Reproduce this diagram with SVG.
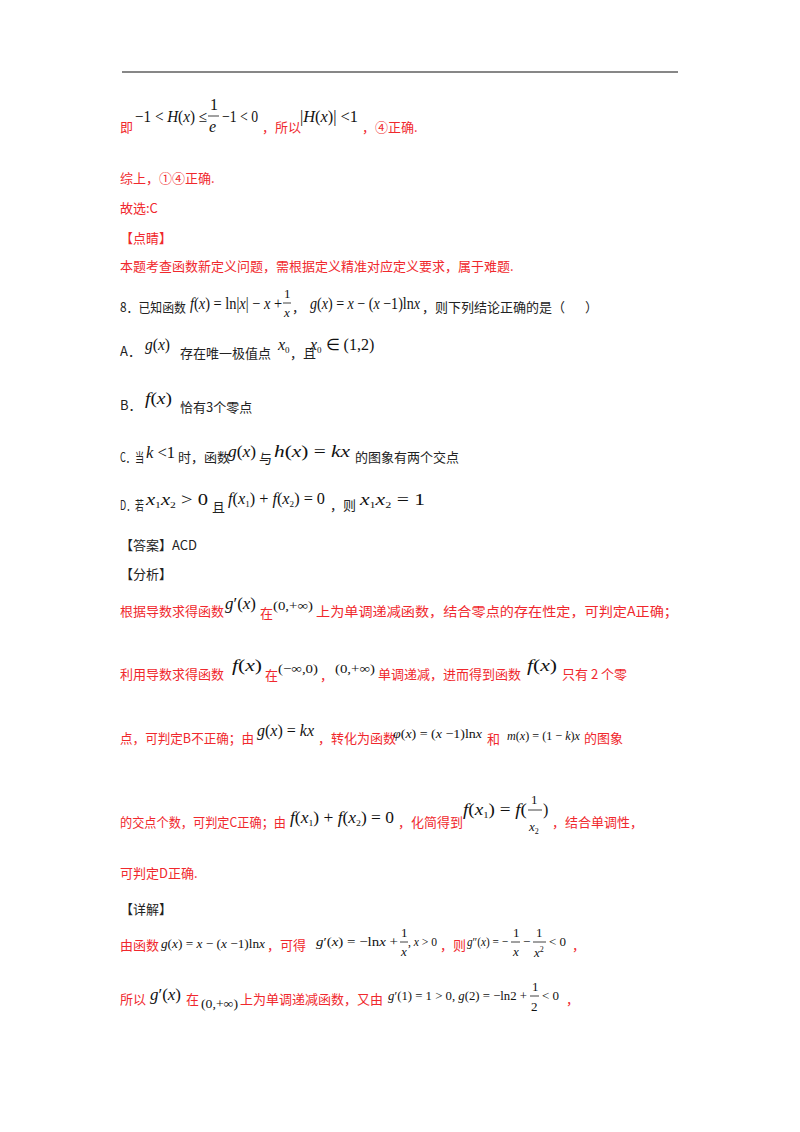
<svg xmlns="http://www.w3.org/2000/svg" width="800" height="1132" viewBox="0 0 800 1132">
<style>
.r{fill:#f0282d;font-family:"Noto Sans CJK SC","Liberation Sans",sans-serif;font-size:13px}
.k{fill:#222;font-family:"Noto Sans CJK SC","Liberation Sans",sans-serif;font-size:13px}
.m{fill:#111;font-family:"Liberation Serif",serif;font-size:16px}
.s{fill:#111;font-family:"Liberation Serif",serif;font-size:13px}
.i{font-style:italic}
.b{stroke:#111;stroke-width:0.8}
</style>
<rect width="800" height="1132" fill="#fff"/>
<line x1="122" y1="72" x2="678" y2="72" stroke="#111" stroke-width="1.2"/>

<text class="r" x="120" y="132">即</text>
<text class="m" x="135" y="122" textLength="72" lengthAdjust="spacingAndGlyphs">−1 &lt; <tspan class="i">H</tspan>(<tspan class="i">x</tspan>) ≤</text>
<text class="m" x="210" y="110">1</text><line class="b" x1="208" y1="116" x2="219" y2="116"/>
<text class="m i" x="209" y="132">e</text>
<text class="m" x="222" y="122" textLength="36" lengthAdjust="spacingAndGlyphs">−1 &lt; 0</text>
<text class="r" x="262" y="132">，所以</text>
<text class="m" x="300" y="122" textLength="58" lengthAdjust="spacingAndGlyphs">|<tspan class="i">H</tspan>(<tspan class="i">x</tspan>)| &lt;1</text>
<text class="r" x="362" y="132">，④正确.</text>

<text class="r" x="120" y="183">综上，①④正确.</text>
<text class="r" x="120" y="213">故选:C</text>
<text class="r" x="120" y="243">【点睛】</text>
<text class="r" x="120" y="271">本题考查函数新定义问题，需根据定义精准对应定义要求，属于难题.</text>

<text class="k" x="120" y="312" textLength="66" lengthAdjust="spacingAndGlyphs">8．已知函数</text>
<text class="m" x="190" y="309" textLength="92" lengthAdjust="spacingAndGlyphs"><tspan class="i">f</tspan>(<tspan class="i">x</tspan>) = ln|<tspan class="i">x</tspan>| − <tspan class="i">x</tspan> +</text>
<text class="s" x="284" y="298">1</text><line class="b" x1="283" y1="303" x2="291" y2="303"/>
<text class="s i" x="284" y="317">x</text>
<text class="k" x="292" y="312">，</text>
<text class="m" x="310" y="309" textLength="110" lengthAdjust="spacingAndGlyphs"><tspan class="i">g</tspan>(<tspan class="i">x</tspan>) = <tspan class="i">x</tspan> − (<tspan class="i">x</tspan> −1)ln<tspan class="i">x</tspan></text>
<text class="k" x="422" y="312">，则下列结论正确的是（</text>
<text class="k" x="585" y="312">）</text>

<text class="k" x="120" y="356">A．</text>
<text class="m" x="145" y="350" textLength="25" lengthAdjust="spacingAndGlyphs"><tspan class="i">g</tspan>(<tspan class="i">x</tspan>)</text>
<text class="k" x="180" y="358">存在唯一极值点</text>
<text class="m i" x="278" y="350">x<tspan font-size="9" dy="3" font-style="normal">0</tspan></text>
<text class="k" x="290" y="358">，且</text>
<text class="m" x="310" y="350"><tspan class="i">x</tspan><tspan font-size="9" dy="3">0</tspan><tspan dy="-3"> ∈ (1,2)</tspan></text>

<text class="k" x="120" y="410">B．</text>
<text class="m" x="145" y="404" textLength="27" lengthAdjust="spacingAndGlyphs"><tspan class="i">f</tspan>(<tspan class="i">x</tspan>)</text>
<text class="k" x="180" y="412">恰有3个零点</text>

<text class="k" x="120" y="462" textLength="24" lengthAdjust="spacingAndGlyphs">C．当</text>
<text class="m" x="146" y="458" textLength="29" lengthAdjust="spacingAndGlyphs"><tspan class="i">k</tspan> &lt;1</text>
<text class="k" x="178" y="462">时，函数</text>
<text class="m" x="228" y="457" textLength="28" lengthAdjust="spacingAndGlyphs"><tspan class="i">g</tspan>(<tspan class="i">x</tspan>)</text>
<text class="k" x="259" y="463">与</text>
<text class="m" x="274" y="457" textLength="76" lengthAdjust="spacingAndGlyphs"><tspan class="i">h</tspan>(<tspan class="i">x</tspan>) = <tspan class="i">kx</tspan></text>
<text class="k" x="355" y="462">的图象有两个交点</text>

<text class="k" x="120" y="510" textLength="24" lengthAdjust="spacingAndGlyphs">D．若</text>
<text class="m" x="146" y="505" textLength="62" lengthAdjust="spacingAndGlyphs"><tspan class="i">x</tspan><tspan font-size="9" dy="3">1</tspan><tspan class="i" dy="-3">x</tspan><tspan font-size="9" dy="3">2</tspan><tspan dy="-3"> &gt; 0</tspan></text>
<text class="k" x="212" y="512">且</text>
<text class="m" x="228" y="504" textLength="97" lengthAdjust="spacingAndGlyphs"><tspan class="i">f</tspan>(<tspan class="i">x</tspan><tspan font-size="9" dy="3">1</tspan><tspan dy="-3">) + </tspan><tspan class="i">f</tspan>(<tspan class="i">x</tspan><tspan font-size="9" dy="3">2</tspan><tspan dy="-3">) = 0</tspan></text>
<text class="k" x="330" y="510">，则</text>
<text class="m" x="360" y="505" textLength="65" lengthAdjust="spacingAndGlyphs"><tspan class="i">x</tspan><tspan font-size="9" dy="3">1</tspan><tspan class="i" dy="-3">x</tspan><tspan font-size="9" dy="3">2</tspan><tspan dy="-3"> = 1</tspan></text>

<text class="k" x="120" y="550">【答案】ACD</text>
<text class="k" x="120" y="579">【分析】</text>

<text class="r" x="120" y="616">根据导数求得函数</text>
<text class="m" x="225" y="609" textLength="31" lengthAdjust="spacingAndGlyphs"><tspan class="i">g</tspan>′(<tspan class="i">x</tspan>)</text>
<text class="r" x="260" y="618">在</text>
<text class="s" x="273" y="610" textLength="40" lengthAdjust="spacingAndGlyphs">(0,+∞)</text>
<text class="r" x="316" y="616" textLength="362" lengthAdjust="spacingAndGlyphs">上为单调递减函数，结合零点的存在性定，可判定A正确；</text>

<text class="r" x="120" y="679">利用导数求得函数</text>
<text class="m" x="232" y="671" textLength="30" lengthAdjust="spacingAndGlyphs"><tspan class="i">f</tspan>(<tspan class="i">x</tspan>)</text>
<text class="r" x="265" y="680">在</text>
<text class="s" x="278" y="673" textLength="40" lengthAdjust="spacingAndGlyphs">(−∞,0)</text>
<text class="r" x="320" y="680">，</text>
<text class="s" x="335" y="673" textLength="40" lengthAdjust="spacingAndGlyphs">(0,+∞)</text>
<text class="r" x="378" y="679" textLength="143" lengthAdjust="spacingAndGlyphs">单调递减，进而得到函数</text>
<text class="m" x="527" y="671" textLength="30" lengthAdjust="spacingAndGlyphs"><tspan class="i">f</tspan>(<tspan class="i">x</tspan>)</text>
<text class="r" x="562" y="679" font-size="14">只有 2 个零</text>

<text class="r" x="120" y="743" textLength="134" lengthAdjust="spacingAndGlyphs">点，可判定B不正确；由</text>
<text class="m" x="257" y="736" textLength="57" lengthAdjust="spacingAndGlyphs"><tspan class="i">g</tspan>(<tspan class="i">x</tspan>) = <tspan class="i">kx</tspan></text>
<text class="r" x="318" y="743">，转化为函数</text>
<text class="s" x="393" y="738" textLength="89" lengthAdjust="spacingAndGlyphs"><tspan class="i">φ</tspan>(<tspan class="i">x</tspan>) = (<tspan class="i">x</tspan> −1)ln<tspan class="i">x</tspan></text>
<text class="r" x="487" y="744">和</text>
<text class="s" x="507" y="740" textLength="73" lengthAdjust="spacingAndGlyphs"><tspan class="i">m</tspan>(<tspan class="i">x</tspan>) = (1 − <tspan class="i">k</tspan>)<tspan class="i">x</tspan></text>
<text class="r" x="584" y="743">的图象</text>

<text class="r" x="120" y="827" textLength="166" lengthAdjust="spacingAndGlyphs">的交点个数，可判定C正确；由</text>
<text class="m" x="290" y="823" textLength="104" lengthAdjust="spacingAndGlyphs"><tspan class="i">f</tspan>(<tspan class="i">x</tspan><tspan font-size="9" dy="3">1</tspan><tspan dy="-3">) + </tspan><tspan class="i">f</tspan>(<tspan class="i">x</tspan><tspan font-size="9" dy="3">2</tspan><tspan dy="-3">) = 0</tspan></text>
<text class="r" x="398" y="827">，化简得到</text>
<text class="m" x="463" y="815" textLength="64" lengthAdjust="spacingAndGlyphs"><tspan class="i">f</tspan>(<tspan class="i">x</tspan><tspan font-size="9" dy="3">1</tspan><tspan dy="-3">) = </tspan><tspan class="i">f</tspan>(</text>
<text class="s" x="531" y="804">1</text><line class="b" x1="528" y1="810" x2="542" y2="810"/>
<text class="s i" x="529" y="831">x<tspan font-size="8" dy="3" font-style="normal">2</tspan></text>
<text class="m" x="543" y="815">)</text>
<text class="r" x="552" y="827">，结合单调性，</text>

<text class="r" x="120" y="878">可判定D正确.</text>
<text class="k" x="120" y="914">【详解】</text>

<text class="r" x="120" y="950">由函数</text>
<text class="s" x="161" y="948" textLength="104" lengthAdjust="spacingAndGlyphs"><tspan class="i">g</tspan>(<tspan class="i">x</tspan>) = <tspan class="i">x</tspan> − (<tspan class="i">x</tspan> −1)ln<tspan class="i">x</tspan></text>
<text class="r" x="267" y="950">，可得</text>
<text class="s" x="316" y="946" textLength="82" lengthAdjust="spacingAndGlyphs"><tspan class="i">g</tspan>′(<tspan class="i">x</tspan>) = −ln<tspan class="i">x</tspan> +</text>
<text class="s" x="401" y="937">1</text><line class="b" x1="400" y1="942" x2="408" y2="942"/>
<text class="s i" x="401" y="956">x</text>
<text class="s" x="408" y="946" textLength="29" lengthAdjust="spacingAndGlyphs">, <tspan class="i">x</tspan> &gt; 0</text>
<text class="r" x="440" y="950">，则</text>
<text class="s" x="467" y="946" textLength="41" lengthAdjust="spacingAndGlyphs"><tspan class="i">g</tspan>″(<tspan class="i">x</tspan>) = −</text>
<text class="s" x="513" y="937">1</text><line class="b" x1="511" y1="942" x2="520" y2="942"/>
<text class="s i" x="513" y="956">x</text>
<text class="s" x="523" y="946">−</text>
<text class="s" x="536" y="937">1</text><line class="b" x1="533" y1="942" x2="546" y2="942"/>
<text class="s i" x="534" y="957">x<tspan font-size="8" dy="-5" font-style="normal">2</tspan></text>
<text class="s" x="549" y="946">&lt; 0</text>
<text class="r" x="572" y="950">，</text>

<text class="r" x="120" y="1004">所以</text>
<text class="m" x="150" y="1000" textLength="31" lengthAdjust="spacingAndGlyphs"><tspan class="i">g</tspan>′(<tspan class="i">x</tspan>)</text>
<text class="r" x="186" y="1004">在</text>
<text class="s" x="201" y="1008" textLength="37" lengthAdjust="spacingAndGlyphs">(0,+∞)</text>
<text class="r" x="240" y="1004">上为单调递减函数，又由</text>
<text class="s" x="388" y="1000" textLength="139" lengthAdjust="spacingAndGlyphs"><tspan class="i">g</tspan>′(1) = 1 &gt; 0, <tspan class="i">g</tspan>(2) = −ln2 +</text>
<text class="s" x="532" y="991">1</text><line class="b" x1="530" y1="996" x2="539" y2="996"/>
<text class="s" x="531" y="1011">2</text>
<text class="s" x="542" y="1000">&lt; 0</text>
<text class="r" x="566" y="1004">，</text>
</svg>
